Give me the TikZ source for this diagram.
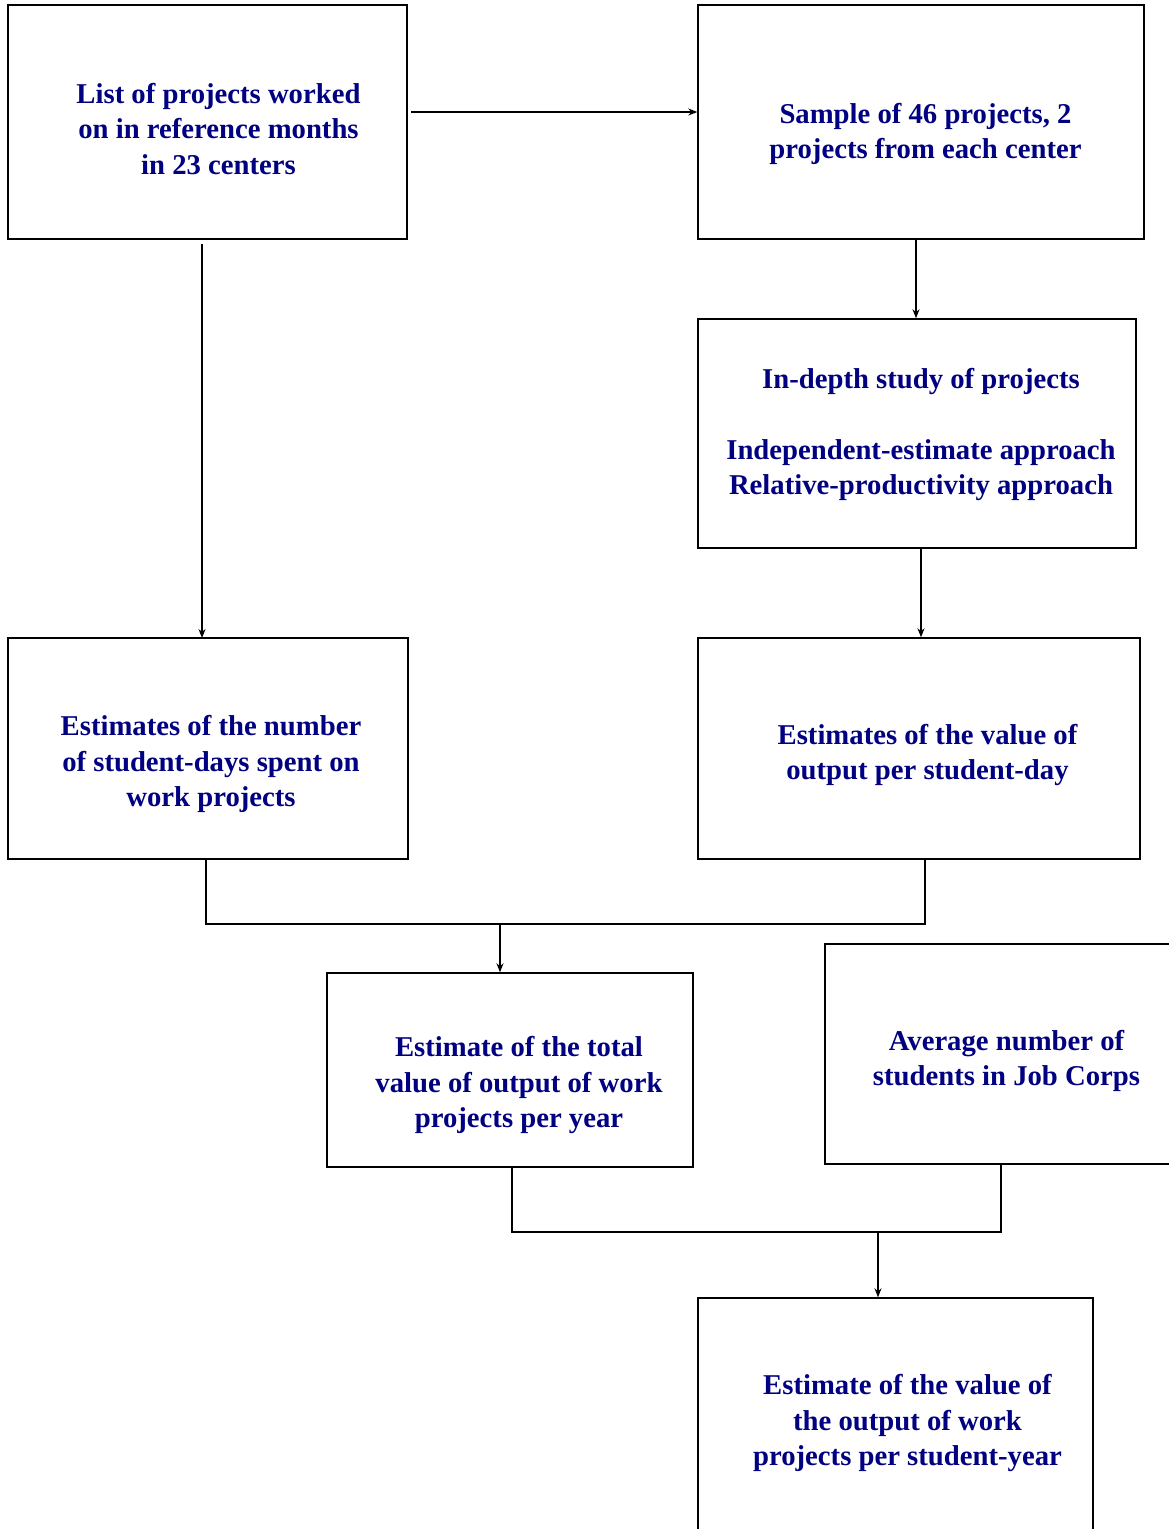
\documentclass[tikz,border=0pt]{standalone}
\usepackage{fontspec}
\setmainfont{Liberation Serif}
\usepackage{tikz}
\usetikzlibrary{arrows.meta}
\definecolor{navytext}{RGB}{0,0,128}

\begin{document}
\begin{tikzpicture}[
        x=1pt,y=-1pt,
        line width=1.4pt,
        box/.style={draw,rectangle,inner sep=0pt},
        txt/.style={align=center,inner sep=0pt,text=navytext,
          font=\fontsize{28.7}{35.5}\selectfont\bfseries},
        link/.style={-{Stealth[length=9pt,width=7pt]}},
      ]
      \clip (0,0) rectangle (1169,1529);
      \useasboundingbox (0,0) rectangle (1169,1529);
      % Boxes
      \node[box,minimum width=399pt,minimum height=234pt] (list) at (207.5,122) {};
      \node[box,minimum width=446pt,minimum height=234pt] (sample) at (921,122) {};
      \node[box,minimum width=438pt,minimum height=229pt] (study) at (917,433.5) {};
      \node[box,minimum width=400pt,minimum height=221pt] (days) at (208,748.5) {};
      \node[box,minimum width=442pt,minimum height=221pt] (value) at (919,748.5) {};
      \node[box,minimum width=366pt,minimum height=194pt] (total) at (510,1070) {};
      \node[box,minimum width=362pt,minimum height=220pt] (avg) at (1006,1054) {};
      \node[box,minimum width=395pt,minimum height=244pt] (result) at (895.5,1420) {};
      % Texts
      \node[txt] (listtext) at (218.5,129)
        {List of projects worked\\on in reference months\\in 23 centers};
      \node[txt] (sampletext) at (925.5,134)
        {Sample of 46 projects, 2\\projects from each center};
      \node[txt] (studytext) at (921,434.5)
        {In-depth study of projects\\[35.5pt]Independent-estimate approach\\Relative-productivity approach};
      \node[txt] (daystext) at (211,764)
        {Estimates of the number\\of student-days spent on\\work projects};
      \node[txt] (valuetext) at (927.5,755)
        {Estimates of the value of\\output per student-day};
      \node[txt] (totaltext) at (519,1085)
        {Estimate of the total\\value of output of work\\projects per year};
      \node[txt] (avgtext) at (1006.5,1061)
        {Average number of\\students in Job Corps};
      \node[txt] (resulttext) at (907.5,1423)
        {Estimate of the value of\\the output of work\\projects per student-year};
      % Connectors
      \coordinate (j1) at (206,924);
      \coordinate (j2) at (925,924);
      \coordinate (j3) at (512,1232);
      \coordinate (j4) at (1001,1232);
      \draw[link] (411,112) -- (sample.west |- 0,112);
      \draw[link] (202,244) -- (202,638);
      \draw[link] (sample.south -| 916,0) -- (study.north -| 916,0);
      \draw[link] (study.south -| 921,0) -- (value.north -| 921,0);
      \draw (days.south -| j1) -- (j1) -- (j2) -- (value.south -| j2);
      \draw[link] (500,924) -- (total.north -| 500,0);
      \draw (total.south -| j3) -- (j3) -- (j4) -- (avg.south -| j4);
      \draw[link] (878,1232) -- (result.north -| 878,0);
    \end{tikzpicture}
\end{document}
